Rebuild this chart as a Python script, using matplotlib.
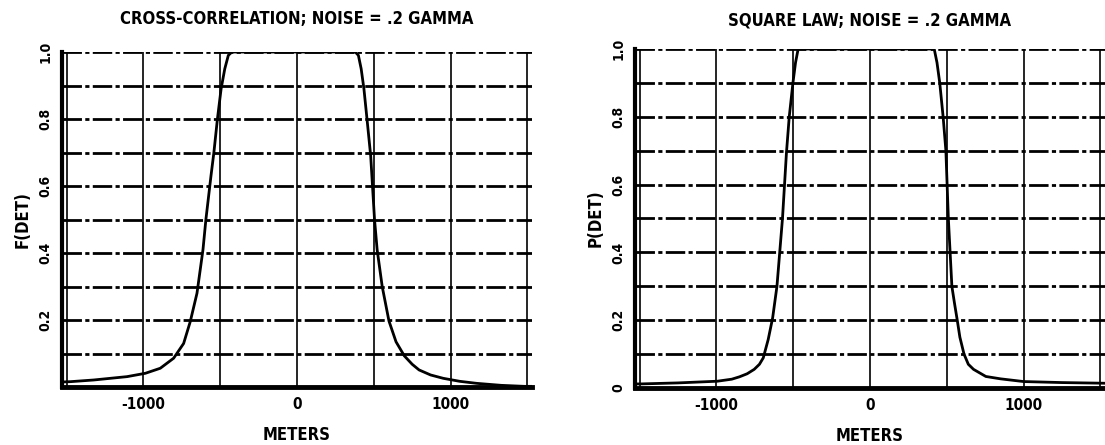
import matplotlib
matplotlib.use("Agg")
import matplotlib.pyplot as plt
from matplotlib.ticker import MultipleLocator

plt.rcParams['font.family'] = ['DejaVu Sans']
plt.rcParams['font.weight'] = 'bold'
plt.rcParams['font.stretch'] = 'condensed'

# cross-correlation curve
cc_x = [-1530, -1474, -1323, -1106, -987, -890, -803, -738, -695, -651, -630, -612, -593,
        -560, -541, -518, -494, -470, -447, -424, 380, 400, 418, 436, 456, 480, 505, 522,
        555, 599, 645, 699, 750, 795, 870, 952, 1060, 1169, 1330, 1480, 1530]
cc_y = [0.015, 0.016, 0.021, 0.031, 0.041, 0.056, 0.086, 0.13, 0.195, 0.28, 0.35, 0.41,
        0.50, 0.63, 0.70, 0.80, 0.89, 0.95, 0.99, 1.0, 1.0, 0.99, 0.95, 0.89, 0.80, 0.69,
        0.50, 0.41, 0.30, 0.197, 0.135, 0.093, 0.068, 0.051, 0.036, 0.026, 0.017, 0.011,
        0.005, 0.002, 0.002]

# square law curve
sq_x = [-1530, -1493, -1250, -994, -900, -850, -800, -754, -720, -695, -663, -634, -606,
        -570, -544, -526, -502, -485, -468, 418, 436, 454, 476, 494, 510, 533, 550, 568,
        585, 612, 640, 674, 754, 850, 1000, 1250, 1531]
sq_y = [0.012, 0.012, 0.015, 0.02, 0.026, 0.033, 0.042, 0.055, 0.07, 0.089, 0.143, 0.207,
        0.30, 0.50, 0.695, 0.80, 0.90, 0.96, 1.0, 1.0, 0.96, 0.90, 0.80, 0.70, 0.50, 0.30,
        0.25, 0.20, 0.15, 0.10, 0.07, 0.055, 0.034, 0.027, 0.019, 0.016, 0.014]

titles = ['CROSS-CORRELATION; NOISE = .2 GAMMA', 'SQUARE LAW; NOISE = .2 GAMMA']
ylabels = ['F(DET)', 'P(DET)']
xticks = [-1000, 0, 1000]
xticklabels = ['-1000', '0', '1000']
cc_yticks = [0.2, 0.4, 0.6, 0.8, 1.0]
cc_yticklabels = ['0.2', '0.4', '0.6', '0.8', '1.0']
sq_yticks = [0, 0.2, 0.4, 0.6, 0.8, 1.0]
sq_yticklabels = ['0', '0.2', '0.4', '0.6', '0.8', '1.0']

fig = plt.figure(figsize=(11.05, 4.45), dpi=100)
ax1 = fig.add_axes([0.0561, 0.1303, 0.4253, 0.7528])
ax2 = fig.add_axes([0.5747, 0.1281, 0.4253, 0.7618])

panels = [(ax1, cc_x, cc_y, cc_yticks, cc_yticklabels, 20),
          (ax2, sq_x, sq_y, sq_yticks, sq_yticklabels, 17)]

for i, (ax, xs, ys, yt, ytl, tpad) in enumerate(panels):
    ax.plot(xs, ys, color='black', lw=2.0, solid_joinstyle='round', zorder=3)
    ax.set_xlim(-1530, 1530)
    ax.set_ylim(0, 1.0)
    ax.set_xticks(xticks)
    ax.set_xticklabels(xticklabels, fontsize=11, fontweight='bold')
    ax.xaxis.set_minor_locator(MultipleLocator(500))
    ax.set_yticks(yt)
    ax.set_yticklabels(ytl, fontsize=10, fontweight='bold', rotation=90, va='center')
    ax.yaxis.set_minor_locator(MultipleLocator(0.1))
    ax.tick_params(which='both', length=0, pad=7)
    # vertical grid: thin solid, horizontal grid: heavy dashed
    ax.grid(axis='x', which='both', color='black', lw=1.2, ls='-')
    ax.grid(axis='y', which='both', color='black', lw=2.0, ls=(0, (7, 1.2, 1.5, 1.2)))
    for side in ['top', 'right']:
        ax.spines[side].set_visible(False)
    ax.spines['left'].set_linewidth(3)
    ax.spines['bottom'].set_linewidth(3.5)
    ax.set_title(titles[i], fontsize=12, fontweight='bold', pad=tpad)
    ax.set_xlabel('METERS', fontsize=12, fontweight='bold', labelpad=10)
    ax.set_ylabel(ylabels[i], fontsize=12, fontweight='bold', labelpad=5)

fig.savefig('out.png', dpi=100)
